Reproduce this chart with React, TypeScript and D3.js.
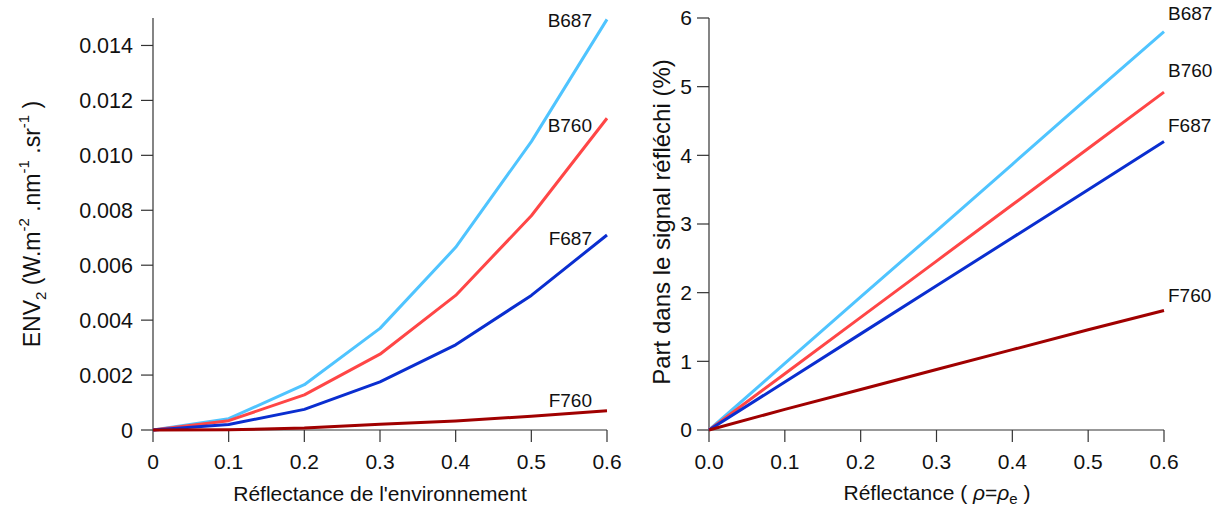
import React from "react";
import * as d3 from "d3";

const xValues = [0, 0.1, 0.2, 0.3, 0.4, 0.5, 0.6];
const seriesNames = ["B687", "B760", "F687", "F760"];
const seriesColors = ["#4FC4FF", "#FF4646", "#0A2ED0", "#A00000"];

// Left panel: ENV2 (W.m-2.nm-1.sr-1)
const envB687 = [0, 0.00041, 0.00165, 0.0037, 0.00665, 0.0105, 0.01495];
const envB760 = [0, 0.00034, 0.00128, 0.00276, 0.0049, 0.0078, 0.01135];
const envF687 = [0, 0.0002, 0.00075, 0.00175, 0.0031, 0.0049, 0.0071];
const envF760 = [0, 0.00001, 0.00007, 0.00021, 0.00033, 0.0005, 0.0007];

// Right panel: Part dans le signal réfléchi (%)
const partB687 = [0, 0.97, 1.94, 2.9, 3.87, 4.84, 5.8];
const partB760 = [0, 0.82, 1.64, 2.46, 3.28, 4.1, 4.92];
const partF687 = [0, 0.7, 1.4, 2.1, 2.8, 3.5, 4.2];
const partF760 = [0, 0.3, 0.59, 0.88, 1.17, 1.46, 1.74];

const leftYTicks = [0, 0.002, 0.004, 0.006, 0.008, 0.01, 0.012, 0.014];
const leftXTicks = [0, 0.1, 0.2, 0.3, 0.4, 0.5, 0.6];
const rightYTicks = [0, 1, 2, 3, 4, 5, 6];
const rightXTicks = [0, 0.1, 0.2, 0.3, 0.4, 0.5, 0.6];

const FONT = "'Liberation Sans', Arial, sans-serif";
const AXIS = "#333";

export default function App() {
  const W = 1222, H = 508;
  const top = 18, bottom = 430;

  const lx = d3.scaleLinear().domain([0, 0.6]).range([153, 607]);
  const ly = d3.scaleLinear().domain([0, 0.015]).range([bottom, top]);
  const rx = d3.scaleLinear().domain([0, 0.6]).range([709, 1164]);
  const ry = d3.scaleLinear().domain([0, 6]).range([bottom, top]);

  const leftSeries = [envB687, envB760, envF687, envF760];
  const rightSeries = [partB687, partB760, partF687, partF760];

  const lineL = d3.line<number>().x((_, i) => lx(xValues[i])).y((d) => ly(d));
  const lineR = d3.line<number>().x((_, i) => rx(xValues[i])).y((d) => ry(d));

  const fmtLeftY = (v: number) => (v === 0 ? "0" : v.toFixed(3));
  const fmtLeftX = (v: number) => (v === 0 ? "0" : String(v));
  const fmtRightX = (v: number) => v.toFixed(1);

  const tickLen = 12;

  const leftLabelY = [20, 125, 238, 400];
  const rightLabelY = [13, 70, 125, 295];

  return (
    <svg
      width={W}
      height={H}
      style={{ position: "absolute", left: 0, top: 0, background: "#fff" }}
      fontFamily={FONT}
    >
      {/* LEFT PANEL */}
      <g>
        <line x1={lx(0)} x2={lx(0)} y1={ly(0)} y2={top} stroke={AXIS} strokeWidth={1.2} />
        <line x1={lx(0)} x2={lx(0.6)} y1={ly(0)} y2={ly(0)} stroke={AXIS} strokeWidth={1.2} />
        {leftYTicks.map((t) => (
          <g key={"ly" + t}>
            <line x1={lx(0) - tickLen} x2={lx(0)} y1={ly(t)} y2={ly(t)} stroke={AXIS} strokeWidth={1.2} />
            <text x={lx(0) - 20} y={ly(t)} dy="0.35em" textAnchor="end" fontSize={21.5} fill="#111">
              {fmtLeftY(t)}
            </text>
          </g>
        ))}
        {leftXTicks.map((t) => (
          <g key={"lx" + t}>
            <line x1={lx(t)} x2={lx(t)} y1={ly(0)} y2={ly(0) + tickLen} stroke={AXIS} strokeWidth={1.2} />
            <text x={lx(t)} y={462} dy="0.35em" textAnchor="middle" fontSize={21} fill="#111">
              {fmtLeftX(t)}
            </text>
          </g>
        ))}
        {leftSeries.map((s, i) => (
          <path key={"lp" + i} d={lineL(s) || ""} fill="none" stroke={seriesColors[i]} strokeWidth={3} strokeLinejoin="round" />
        ))}
        {seriesNames.map((n, i) => (
          <text key={"ll" + n} x={592} y={leftLabelY[i]} dy="0.35em" textAnchor="end" fontSize={19} fill="#111">
            {n}
          </text>
        ))}
        <text x={380} y={494} dy="0.35em" textAnchor="middle" fontSize={21} fill="#111">
          Réflectance de l'environnement
        </text>
        <text transform="translate(40,224) rotate(-90)" textAnchor="middle" fontSize={23} fill="#111">
          ENV<tspan fontSize={15} dy={6}>2</tspan>
          <tspan dy={-6}> (W.m</tspan>
          <tspan fontSize={15} dy={-11}>-2</tspan>
          <tspan dy={11}> .nm</tspan>
          <tspan fontSize={15} dy={-11}>-1</tspan>
          <tspan dy={11}> .sr</tspan>
          <tspan fontSize={15} dy={-11}>-1</tspan>
          <tspan dy={11}> )</tspan>
        </text>
      </g>

      {/* RIGHT PANEL */}
      <g>
        <line x1={rx(0)} x2={rx(0)} y1={ry(0)} y2={top} stroke={AXIS} strokeWidth={1.2} />
        <line x1={rx(0)} x2={rx(0.6)} y1={ry(0)} y2={ry(0)} stroke={AXIS} strokeWidth={1.2} />
        {rightYTicks.map((t) => (
          <g key={"ry" + t}>
            <line x1={rx(0) - tickLen} x2={rx(0)} y1={ry(t)} y2={ry(t)} stroke={AXIS} strokeWidth={1.2} />
            <text x={rx(0) - 17} y={ry(t)} dy="0.35em" textAnchor="end" fontSize={21} fill="#111">
              {t}
            </text>
          </g>
        ))}
        {rightXTicks.map((t) => (
          <g key={"rx" + t}>
            <line x1={rx(t)} x2={rx(t)} y1={ry(0)} y2={ry(0) + tickLen} stroke={AXIS} strokeWidth={1.2} />
            <text x={rx(t)} y={462} dy="0.35em" textAnchor="middle" fontSize={21} fill="#111">
              {fmtRightX(t)}
            </text>
          </g>
        ))}
        {rightSeries.map((s, i) => (
          <path key={"rp" + i} d={lineR(s) || ""} fill="none" stroke={seriesColors[i]} strokeWidth={3} strokeLinejoin="round" />
        ))}
        {seriesNames.map((n, i) => (
          <text key={"rl" + n} x={1168} y={rightLabelY[i]} dy="0.35em" textAnchor="start" fontSize={19} fill="#111">
            {n}
          </text>
        ))}
        <text x={937} y={493} dy="0.35em" textAnchor="middle" fontSize={21} fill="#111">
          Réflectance ( <tspan fontStyle="italic">ρ</tspan>=<tspan fontStyle="italic">ρ</tspan>
          <tspan fontSize={15} dy={4}>e</tspan>
          <tspan dy={-4}> )</tspan>
        </text>
        <text transform="translate(670,222) rotate(-90)" textAnchor="middle" fontSize={24} fill="#111">
          Part dans le signal réfléchi (%)
        </text>
      </g>
    </svg>
  );
}
